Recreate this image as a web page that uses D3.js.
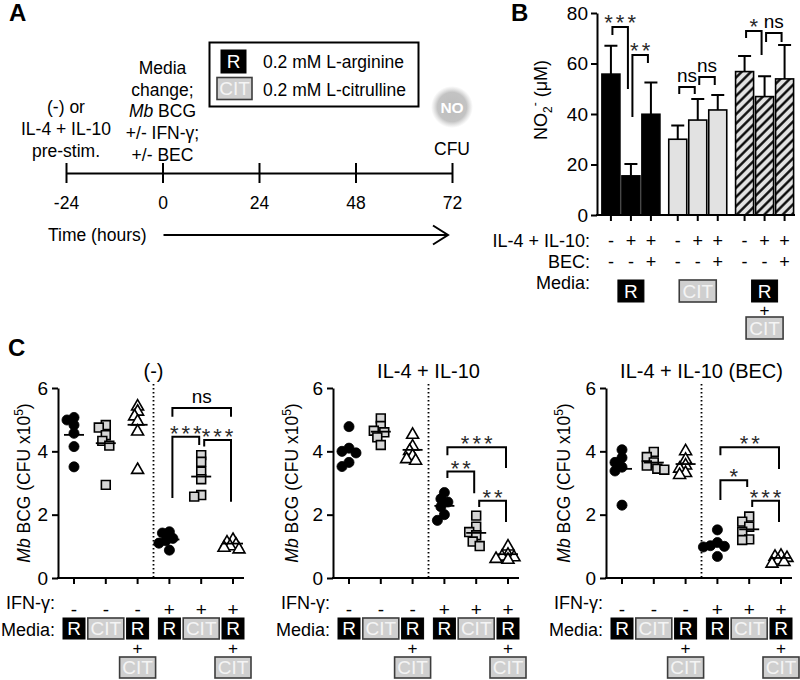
<!DOCTYPE html>
<html><head><meta charset="utf-8">
<script src="https://cdn.jsdelivr.net/npm/d3@7"></script>
<style>
body{margin:0;background:#fff}
svg text{font-family:"Liberation Sans",Arial,Helvetica,sans-serif}
</style></head><body>
<svg id="fig" width="800" height="680"></svg>
<script>
// ================= DATA =================
const timeTicks = [-24, 0, 24, 48, 72];
const preStimLines = ["(-) or", "IL-4 + IL-10", "pre-stim."];
const mediaChangeLines = ["Media", "change;", "Mb BCG", "+/- IFN-γ;", "+/- BEC"];
const legendTypes = ["R", "CIT"];
const legendLabels = ["0.2 mM L-arginine", "0.2 mM L-citrulline"];

const bTicks = [0, 20, 40, 60, 80];
const bMedia = ["R", "CIT", "R+CIT"];
const bIL = ["-", "+", "+", "-", "+", "+", "-", "+", "+"];
const bBEC = ["-", "-", "+", "-", "-", "+", "-", "-", "+"];
const bMeans = [55.8, 15.5, 39.9, 30.0, 37.6, 41.6, 56.8, 46.9, 53.9];
const bErrors = [11.2, 4.7, 12.6, 5.4, 8.3, 5.9, 6.2, 8.1, 13.4];
const bBrackets = [
  {a: 0, b: 1, top: 74.5, la: 71.3, lb: 49.9, label: "***"},
  {a: 1, b: 2, top: 63.4, la: 38.8, lb: 60.2, label: "**"},
  {a: 3, b: 4, top: 50.7, la: 47.9, lb: 47.9, label: "ns"},
  {a: 4, b: 5, top: 54.7, la: 51.5, lb: 51.5, label: "ns"},
  {a: 6, b: 7, top: 72.9, la: 70.1, lb: 63.4, label: "*"},
  {a: 7, b: 8, top: 72.1, la: 68.5, lb: 68.5, label: "ns"}
];

const cTitles = ["(-)", "IL-4 + IL-10", "IL-4 + IL-10 (BEC)"];
const cTicks = [0, 2, 4, 6];
const cIFN = ["-", "-", "-", "+", "+", "+"];
const cMedia = ["R", "CIT", "R+CIT", "R", "CIT", "R+CIT"];
const cShapes = ["circle", "square", "triangle", "circle", "square", "triangle"];
const c1Values = [
  [5.07, 4.99, 4.83, 4.57, 4.15, 3.51],
  [4.83, 4.75, 4.51, 4.33, 4.18, 2.94],
  [5.46, 5.30, 5.15, 4.99, 4.67, 3.46],
  [1.46, 1.42, 1.25, 1.18, 1.10, 0.88],
  [3.88, 3.67, 3.36, 3.12, 2.62, 2.57],
  [1.25, 1.17, 1.10, 1.05, 1.00, 0.95]
];
const c2Values = [
  [4.78, 4.10, 4.00, 3.95, 3.65, 3.52],
  [5.04, 4.80, 4.65, 4.60, 4.44, 4.20],
  [4.57, 4.20, 4.06, 3.90, 3.80, 3.75],
  [2.70, 2.50, 2.40, 2.25, 2.00, 1.82],
  [1.97, 1.62, 1.45, 1.35, 1.15, 1.01],
  [1.04, 0.78, 0.72, 0.70, 0.65, 0.62]
];
const c3Values = [
  [4.05, 3.80, 3.65, 3.50, 3.38, 2.30],
  [3.98, 3.82, 3.65, 3.55, 3.45, 3.42],
  [4.05, 3.78, 3.60, 3.50, 3.36, 3.30],
  [1.52, 1.12, 1.02, 1.00, 0.98, 0.68],
  [1.94, 1.78, 1.62, 1.46, 1.22, 1.20],
  [0.75, 0.72, 0.68, 0.60, 0.55, 0.50]
];
const c1Brackets = [
  {a: 3, b: 5, top: 5.37, la: 5.09, lb: 5.09, label: "ns"},
  {a: 3, b: 4, top: 4.46, la: 2.53, lb: 4.20, label: "***"},
  {a: 4, b: 5, top: 4.36, la: 4.15, lb: 2.41, label: "***"}
];
const c2Brackets = [
  {a: 3, b: 5, top: 4.13, la: 3.88, lb: 3.47, label: "***"},
  {a: 3, b: 4, top: 3.36, la: 3.16, lb: 2.68, label: "**"},
  {a: 4, b: 5, top: 2.44, la: 2.24, lb: 1.77, label: "**"}
];
const c3Brackets = [
  {a: 3, b: 5, top: 4.13, la: 3.88, lb: 3.44, label: "**"},
  {a: 3, b: 4, top: 3.09, la: 2.46, lb: 2.87, label: "*"},
  {a: 4, b: 5, top: 2.44, la: 2.24, lb: 1.77, label: "***"}
];

// ================= HELPERS =================
const svg = d3.select("#fig");
const defs = svg.append("defs");

function txt(g, x, y, s, o = {}) {
  const t = g.append("text").attr("x", x).attr("y", y).text(s)
    .attr("font-size", o.size || 17.5).attr("text-anchor", o.anchor || "start")
    .style("fill", o.fill || "#000");
  if (o.weight) t.attr("font-weight", o.weight);
  if (o.family) t.style("font-family", o.family);
  if (o.style) t.attr("font-style", o.style);
  return t;
}
function mediaBox(g, cx, top, type, w, h, fs) {
  const isR = type === "R";
  g.append("rect").attr("x", cx - w / 2).attr("y", top).attr("width", w).attr("height", h)
    .attr("fill", isR ? "#000" : "#cfcfcf").attr("stroke", isR ? "#000" : "#3c3c3c")
    .attr("stroke-width", isR ? 1 : 1.6);
  txt(g, cx, top + h / 2 + fs * 0.36, type, {anchor: "middle", size: fs, fill: isR ? "#fff" : "#f4f4f4"});
}
function mediaSet(g, cx, top, type, dims) {
  const [wR, wC, h, fs, gap] = dims;
  if (type === "R") mediaBox(g, cx, top, "R", wR, h, fs);
  else if (type === "CIT") mediaBox(g, cx, top, "CIT", wC, h, fs);
  else {
    mediaBox(g, cx, top, "R", wR, h, fs);
    txt(g, cx, top + h + gap * 0.5 + 6, "+", {anchor: "middle", size: fs * 0.9});
    mediaBox(g, cx, top + h + gap, "CIT", wC, h, fs);
  }
}
function bracket(g, xl, xr, yTop, yL, yR, label, asz, nsz, aOff, nOff) {
  g.append("path").attr("d", `M${xl},${yL} V${yTop} H${xr} V${yR}`)
    .attr("fill", "none").attr("stroke", "#000").attr("stroke-width", 2);
  const cx = (xl + xr) / 2;
  if (label.includes("*")) {
    txt(g, cx + 1.5, yTop + aOff, label, {anchor: "middle", size: asz, fill: "#2a2a2a"})
      .style("letter-spacing", "3px");
  } else txt(g, cx, yTop - nOff, label, {anchor: "middle", size: nsz});
}
function swarm(vals, yS, step, minD) {
  const placed = [];
  return vals.map(v => {
    const y = yS(v);
    const cands = [0];
    for (let k = 1; k < 10; k++) cands.push(-k * step, k * step);
    for (const dx of cands) {
      if (placed.every(p => Math.hypot(p.dx - dx, p.y - y) >= minD)) { placed.push({dx, y}); return dx; }
    }
    placed.push({dx: 0, y}); return 0;
  });
}

// panel letters
txt(svg, 9, 21, "A", {size: 24, weight: "bold"});
txt(svg, 511, 21, "B", {size: 24, weight: "bold"});
txt(svg, 8, 356, "C", {size: 24, weight: "bold"});

// ================= PANEL A =================
const gA = svg.append("g");
const tx = d3.scaleLinear().domain([-24, 72]).range([66, 452]);
const axA = d3.axisBottom(tx).tickValues(timeTicks).tickSize(10).tickSizeOuter(0)
  .tickPadding(14).tickFormat(d => String(d));
const gAx = gA.append("g").attr("transform", "translate(0,173)").call(axA);
gAx.select(".domain").attr("stroke-width", 2);
gAx.selectAll(".tick line").attr("y1", -10).attr("stroke-width", 2);
gAx.selectAll(".tick text").attr("font-size", 17.5)
  .style("font-family", '"Liberation Sans",Arial,sans-serif');

preStimLines.forEach((s, i) => txt(gA, tx(-24), 113 + i * 22, s, {anchor: "middle"}));
mediaChangeLines.forEach((s, i) => {
  const t = gA.append("text").attr("x", tx(0)).attr("y", 74 + i * 21.7)
    .attr("font-size", 17.5).attr("text-anchor", "middle");
  if (s.startsWith("Mb ")) {
    t.append("tspan").attr("font-style", "italic").text("Mb");
    t.append("tspan").text(s.slice(2));
  } else t.text(s);
});

// legend
gA.append("rect").attr("x", 209.5).attr("y", 42.5).attr("width", 209).attr("height", 64)
  .attr("fill", "none").attr("stroke", "#000").attr("stroke-width", 2);
mediaBox(gA, 233.5, 50, legendTypes[0], 25, 23, 19);
mediaBox(gA, 234.5, 77.5, legendTypes[1], 35, 22, 19);
txt(gA, 263, 68, legendLabels[0]);
txt(gA, 263, 96, legendLabels[1]);

// NO + CFU
const rg = defs.append("radialGradient").attr("id", "noGlow");
rg.append("stop").attr("offset", "0%").attr("stop-color", "#bdbdbd");
rg.append("stop").attr("offset", "70%").attr("stop-color", "#c3c3c3");
rg.append("stop").attr("offset", "100%").attr("stop-color", "#d0d0d0").attr("stop-opacity", 0);
gA.append("circle").attr("cx", tx(72)).attr("cy", 107).attr("r", 21).attr("fill", "url(#noGlow)");
txt(gA, tx(72), 112.5, "NO", {anchor: "middle", size: 15.5, weight: "bold", fill: "#fff"});
txt(gA, tx(72), 155, "CFU", {anchor: "middle"});

// time arrow
txt(gA, 48, 241, "Time (hours)");
gA.append("line").attr("x1", tx(0) + 1).attr("x2", tx(72) - 5).attr("y1", 235).attr("y2", 235)
  .attr("stroke", "#000").attr("stroke-width", 2);
gA.append("path").attr("d", `M${tx(72) - 19},225.5 L${tx(72) - 4},235 L${tx(72) - 19},244.5`)
  .attr("fill", "none").attr("stroke", "#000").attr("stroke-width", 2);

// ================= PANEL B =================
const gB = svg.append("g");
const yB = d3.scaleLinear().domain([0, 80]).range([215, 13]);
const xgB = d3.scaleBand().domain([0, 1, 2]).range([597.5, 798]);
const xiB = d3.scalePoint().domain([0, 1, 2]).range([-20, 20]);
const bx = i => xgB(Math.floor(i / 3)) + xgB.bandwidth() / 2 + xiB(i % 3);
const barW = 18;

const pat = defs.append("pattern").attr("id", "hatch").attr("patternUnits", "userSpaceOnUse")
  .attr("width", 6.5).attr("height", 6.5).attr("patternTransform", "rotate(45)");
pat.append("rect").attr("width", 6.5).attr("height", 6.5).attr("fill", "#e3e3e3");
pat.append("line").attr("x1", 3.25).attr("x2", 3.25).attr("y1", 0).attr("y2", 6.5)
  .attr("stroke", "#000").attr("stroke-width", 2.3);
const bFills = ["#000", "#e2e2e2", "url(#hatch)"];

gB.selectAll(".err").data(bMeans).join("path")
  .attr("d", (d, i) => `M${bx(i)},${yB(d)} V${yB(d + bErrors[i])} M${bx(i) - 6.5},${yB(d + bErrors[i])} H${bx(i) + 6.5}`)
  .attr("stroke", "#000").attr("stroke-width", 2).attr("fill", "none");
gB.selectAll(".bar").data(bMeans).join("rect")
  .attr("x", (d, i) => bx(i) - barW / 2).attr("y", d => yB(d))
  .attr("width", barW).attr("height", d => yB(0) - yB(d))
  .attr("fill", (d, i) => bFills[Math.floor(i / 3)])
  .attr("stroke", "#000").attr("stroke-width", 1.6);

const axB = d3.axisLeft(yB).tickValues(bTicks).tickSize(6).tickSizeOuter(0).tickPadding(3)
  .tickFormat(d => String(d));
const gyB = gB.append("g").attr("transform", "translate(597,0)").call(axB);
gyB.select(".domain").attr("stroke-width", 2);
gyB.selectAll(".tick line").attr("stroke-width", 2);
gyB.selectAll(".tick text").attr("font-size", 19).style("font-family", '"Liberation Sans",Arial,sans-serif');
gB.append("line").attr("x1", 596).attr("x2", 795).attr("y1", yB(0)).attr("y2", yB(0))
  .attr("stroke", "#000").attr("stroke-width", 2);
gB.selectAll(".xt").data(bMeans).join("line")
  .attr("x1", (d, i) => bx(i)).attr("x2", (d, i) => bx(i))
  .attr("y1", yB(0)).attr("y2", yB(0) + 6).attr("stroke", "#000").attr("stroke-width", 2);

const ylB = gB.append("text").attr("transform", "translate(547,100) rotate(-90)")
  .attr("text-anchor", "middle").attr("font-size", 18);
ylB.append("tspan").text("NO");
ylB.append("tspan").attr("font-size", 12).attr("dy", 5).text("2");
ylB.append("tspan").attr("font-size", 12).attr("dy", -13).text("-");
ylB.append("tspan").attr("dy", 8).text(" (μM)");

bBrackets.forEach(k => bracket(gB, bx(k.a) + 1.5, bx(k.b) - 3, yB(k.top), yB(k.la), yB(k.lb),
  k.label, 22, 19, 3, 5));

txt(gB, 590, 247, "IL-4 + IL-10:", {anchor: "end", size: 18});
txt(gB, 590, 268, "BEC:", {anchor: "end", size: 18});
txt(gB, 590, 289, "Media:", {anchor: "end", size: 18});
bIL.forEach((s, i) => txt(gB, bx(i), 247, s, {anchor: "middle", size: 18}));
bBEC.forEach((s, i) => txt(gB, bx(i), 268, s, {anchor: "middle", size: 18}));
bMedia.forEach((m, g) => mediaSet(gB, bx(g * 3 + 1), 280, m, [26, 37, 22, 19, 15]));

// ================= PANEL C =================
const cSets = [
  {axisX: 58, values: c1Values, brackets: c1Brackets, labOff: 34},
  {axisX: 333, values: c2Values, brackets: c2Brackets, labOff: 41},
  {axisX: 606, values: c3Values, brackets: c3Brackets, labOff: 42}
];
const yC = d3.scaleLinear().domain([0, 6]).range([578, 388]);
const symGen = {
  circle: d3.symbol(d3.symbolCircle, 80),
  square: d3.symbol(d3.symbolSquare, 78),
  triangle: d3.symbol(d3.symbolTriangle, 62)
};
const symStyle = {
  circle: {fill: "#000", stroke: "#000", sw: 0.8, step: 3.5, minD: 7},
  square: {fill: "#d6d6d6", stroke: "#000", sw: 1.6, step: 3.5, minD: 6.5},
  triangle: {fill: "#fff", stroke: "#000", sw: 1.6, step: 3, minD: 4.8}
};

cSets.forEach((P, pi) => {
  const g = svg.append("g");
  const X0 = P.axisX;
  const xc = d3.scalePoint().domain(d3.range(6)).range([X0 + 16, X0 + 175]);
  const mid = (xc(2) + xc(3)) / 2;

  g.append("line").attr("x1", mid).attr("x2", mid).attr("y1", 384).attr("y2", yC(0))
    .attr("stroke", "#000").attr("stroke-width", 1.8).attr("stroke-dasharray", "1.6,2.4");
  txt(g, mid, 378, cTitles[pi], {anchor: "middle", size: 20});

  P.values.forEach((vals, gi) => {
    const shp = cShapes[gi];
    const st = symStyle[shp];
    const offs = swarm(vals, yC, st.step, st.minD);
    const mean = d3.mean(vals);
    g.selectAll(null).data(vals).join("path")
      .attr("d", symGen[shp])
      .attr("transform", (d, i) => `translate(${xc(gi) + offs[i]},${yC(d) + (shp === "triangle" ? 1.5 : 0)})`)
      .attr("fill", st.fill).attr("stroke", st.stroke).attr("stroke-width", st.sw);
    g.append("line").attr("x1", xc(gi) - 10).attr("x2", xc(gi) + 10)
      .attr("y1", yC(mean)).attr("y2", yC(mean)).attr("stroke", "#000").attr("stroke-width", 1.8);
  });

  const axC = d3.axisLeft(yC).tickValues(cTicks).tickSize(6).tickSizeOuter(0).tickPadding(4)
    .tickFormat(d => String(d));
  const gy = g.append("g").attr("transform", `translate(${X0},0)`).call(axC);
  gy.select(".domain").attr("stroke-width", 2);
  gy.selectAll(".tick line").attr("stroke-width", 2);
  gy.selectAll(".tick text").attr("font-size", 19).style("font-family", '"Liberation Sans",Arial,sans-serif');
  g.append("line").attr("x1", X0 - 1).attr("x2", X0 + 186).attr("y1", yC(0)).attr("y2", yC(0))
    .attr("stroke", "#000").attr("stroke-width", 2);
  g.selectAll(".xt").data(d3.range(6)).join("line")
    .attr("x1", d => xc(d)).attr("x2", d => xc(d))
    .attr("y1", yC(0)).attr("y2", yC(0) + 6).attr("stroke", "#000").attr("stroke-width", 2);

  const yl = g.append("text").attr("transform", `translate(${X0 - P.labOff + 6},483) rotate(-90)`)
    .attr("text-anchor", "middle").attr("font-size", 17.5);
  yl.append("tspan").attr("font-style", "italic").text("Mb");
  yl.append("tspan").text(" BCG (CFU x10");
  yl.append("tspan").attr("font-size", 12).attr("dy", -7).text("5");
  yl.append("tspan").attr("dy", 7).text(")");

  P.brackets.forEach(k => bracket(g, xc(k.a) + 3, xc(k.b) - 2, yC(k.top), yC(k.la), yC(k.lb),
    k.label, 22, 19, 4, 5));

  txt(g, X0 - 3, 609, "IFN-γ:", {anchor: "end", size: 18});
  txt(g, X0 - 3, 636, "Media:", {anchor: "end", size: 18});
  cIFN.forEach((s, i) => txt(g, xc(i), 616, s, {anchor: "middle", size: 19}));
  cMedia.forEach((m, i) => mediaSet(g, xc(i), 618, m, [22, 36, 21, 19, 18]));
});
</script>
</body></html>
